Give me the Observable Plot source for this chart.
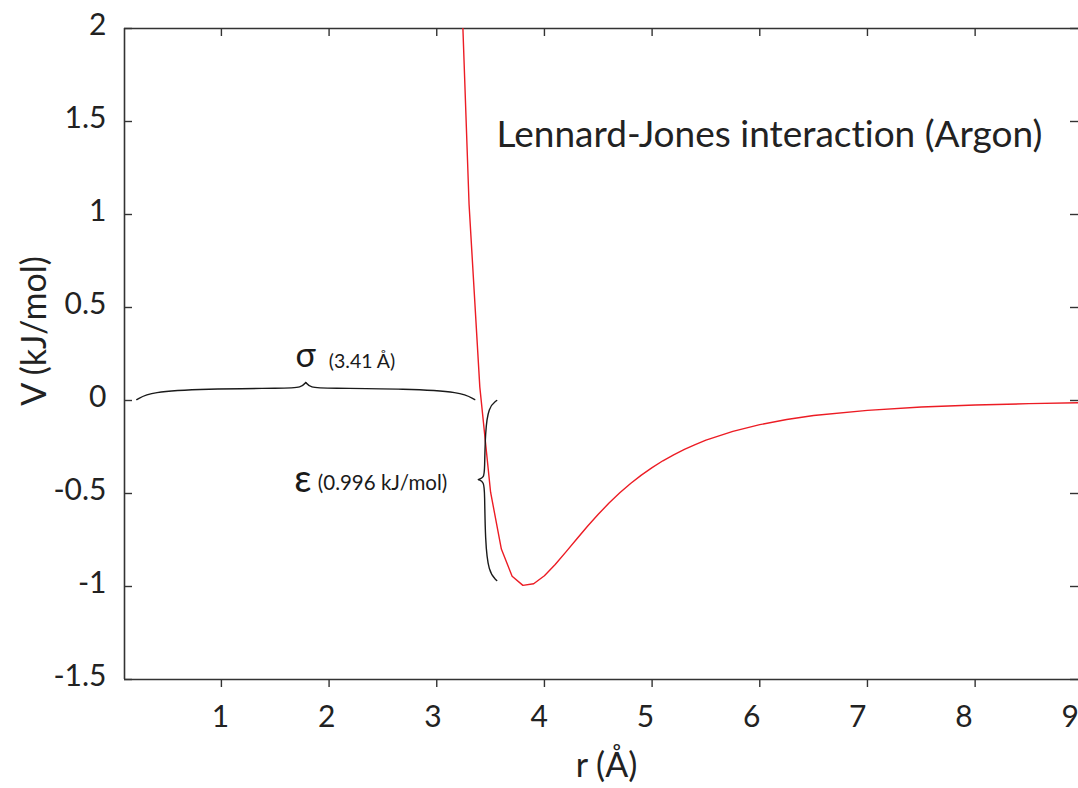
<!DOCTYPE html>
<html><head><meta charset="utf-8">
<script src="https://cdn.jsdelivr.net/npm/d3@7"></script>
<script src="https://cdn.jsdelivr.net/npm/@observablehq/plot@0.6"></script>
<style>
html,body{margin:0;padding:0;background:#fff;}
#chart{position:relative;width:1078px;height:788px;overflow:hidden;}
#chart svg text{font-variant-ligatures:none;font-feature-settings:"liga" 0, "dlig" 0;}
</style></head><body><div id="chart"></div>
<script>
// Lennard-Jones potential for argon
const rValues = [3.2, 3.3, 3.4, 3.5, 3.6, 3.7, 3.8, 3.9, 4.0, 4.1, 4.2, 4.3, 4.4, 4.5, 4.6, 4.7, 4.8, 4.9, 5.0, 5.1, 5.2, 5.3, 5.4, 5.5, 5.75, 6.0, 6.25, 6.5, 7.0, 7.5, 8.0, 8.5, 9.0];
const vValues = [2.709, 1.055, 0.072, -0.493, -0.799, -0.945, -0.994, -0.985, -0.942, -0.882, -0.814, -0.745, -0.676, -0.612, -0.551, -0.496, -0.446, -0.401, -0.361, -0.324, -0.292, -0.263, -0.237, -0.213, -0.166, -0.130, -0.102, -0.081, -0.053, -0.035, -0.024, -0.017, -0.012];
const xTicks = [1, 2, 3, 4, 5, 6, 7, 8, 9];
const yTicks = [-1.5, -1, -0.5, 0, 0.5, 1, 1.5, 2];
const yTickLabels = ["-1.5", "-1", "-0.5", "0", "0.5", "1", "1.5", "2"];
const sigma = 3.41;      // Å
const epsilon = 0.996;   // kJ/mol
const titleText = "Lennard-Jones interaction (Argon)";
const xLabel = "r (Å)";
const yLabel = "V (kJ/mol)";
const sigmaLabel = "(3.41 Å)";
const epsilonLabel = "(0.996 kJ/mol)";

const W = 1078, H = 788;
const mL = 124, mR = 0, mT = 28, mB = 109;
const xDomain = [0.1, 8.96];
const yDomain = [-1.5, 2];
const kx = (W - mL - mR) / (xDomain[1] - xDomain[0]);
const ky = (H - mT - mB) / (yDomain[1] - yDomain[0]);
const axisColor = "#333";
const font = "Lato, 'Open Sans', sans-serif";

const curve = rValues.map((r, i) => ({r, v: vValues[i]}));

// brace shapes: fractions [along, across]
const braceShape = [[0, 0], [0.08, 0.45], [0.4, 0.63], [0.88, 0.66], [0.975, 0.7], [1, 1]];
// horizontal brace for sigma
const hx0 = 0.214, hx1 = sigma - 0.057, hy0 = 0.005, hh = 0.092;
const hMid = (hx0 + hx1) / 2, hL = hMid - hx0;
const braceH = [
  ...braceShape.map(([a, c]) => ({x: hx0 + a * hL, y: hy0 + c * hh, part: "h1"})),
  ...braceShape.map(([a, c]) => ({x: hx1 - a * hL, y: hy0 + c * hh, part: "h2"}))
];
// vertical brace for epsilon
const vx0 = 3.557, vDepth = 0.17, vTop = 0, vBot = -epsilon + 0.028, vTip = -0.425;
const braceV = [
  ...braceShape.map(([a, c]) => ({x: vx0 - c * vDepth, y: vTop + a * (vTip - vTop), part: "v1"})),
  ...braceShape.map(([a, c]) => ({x: vx0 - c * vDepth, y: vBot + a * (vTip - vBot), part: "v2"}))
];
const braces = [...braceH, ...braceV];

const chart = Plot.plot({
  width: W, height: H,
  marginLeft: mL, marginRight: mR, marginTop: mT, marginBottom: mB,
  style: {fontFamily: font, background: "#fff", color: "#222"},
  x: {domain: xDomain, axis: null},
  y: {domain: yDomain, axis: null},
  marks: [
    // frame lines
    Plot.ruleX([xDomain[0]], {stroke: axisColor, strokeWidth: 1.6}),
    Plot.ruleY([yDomain[1]], {stroke: axisColor, strokeWidth: 1.6}),
    Plot.ruleY([yDomain[0]], {stroke: axisColor, strokeWidth: 1.6}),
    // ticks
    Plot.ruleY(yTicks, {y: d => d, x1: xDomain[0], x2: xDomain[0] + 8 / kx, stroke: axisColor, strokeWidth: 1.4}),
    Plot.ruleY(yTicks, {y: d => d, x1: xDomain[1] - 8 / kx, x2: xDomain[1], stroke: axisColor, strokeWidth: 1.4}),
    Plot.ruleX(xTicks, {x: d => d, y1: yDomain[1], y2: yDomain[1] - 8 / ky, stroke: axisColor, strokeWidth: 1.4}),
    Plot.ruleX(xTicks, {x: d => d, y1: yDomain[0], y2: yDomain[0] - 8 / ky, stroke: axisColor, strokeWidth: 1.4}),
    // tick labels
    Plot.text(xTicks, {x: d => 0.992 + (d - 1) * 0.9864, frameAnchor: "bottom", lineAnchor: "middle", dy: 38, text: d => String(d), fontSize: 30, fill: "#222"}),
    Plot.text(yTicks, {y: d => d, frameAnchor: "left", dx: -18, dy: -3, textAnchor: "end", text: (d, i) => yTickLabels[i], fontSize: 30, fill: "#222"}),
    // axis titles
    Plot.text([xLabel], {frameAnchor: "bottom", lineAnchor: "middle", textAnchor: "middle", dx: 5, dy: 87, fontSize: 34, fill: "#222"}),
    Plot.text([yLabel], {frameAnchor: "left", lineAnchor: "middle", textAnchor: "middle", dx: -89, dy: -23, rotate: -90, fontSize: 34, fill: "#222"}),
    // curve
    Plot.line(curve, {x: "r", y: "v", stroke: "#ec1c24", strokeWidth: 1.4, clip: true}),
    // braces
    Plot.line(braces, {x: "x", y: "y", z: "part", curve: "basis", stroke: "#1a1a1a", strokeWidth: 1.4}),
    // annotations
    Plot.text(["σ"], {x: hMid, y: hy0 + hh, dy: -26, fontSize: 34, fill: "#1a1a1a"}),
    Plot.text([sigmaLabel], {x: hMid, y: hy0 + hh, dx: 23, dy: -21, textAnchor: "start", fontSize: 19.5, fill: "#1a1a1a"}),
    Plot.text(["ε"], {x: hMid, y: vTip, dx: -3, dy: 0, fontSize: 38, fill: "#1a1a1a"}),
    Plot.text([epsilonLabel], {x: hMid, y: vTip, dx: 12, dy: 4, textAnchor: "start", fontSize: 20.5, fill: "#1a1a1a"}),
    // title
    Plot.text([titleText], {frameAnchor: "top-left", lineAnchor: "middle", textAnchor: "middle", dx: 645, dy: 107, fontSize: 37, fill: "#222"})
  ]
});
document.getElementById("chart").appendChild(chart);
</script>
</body></html>
